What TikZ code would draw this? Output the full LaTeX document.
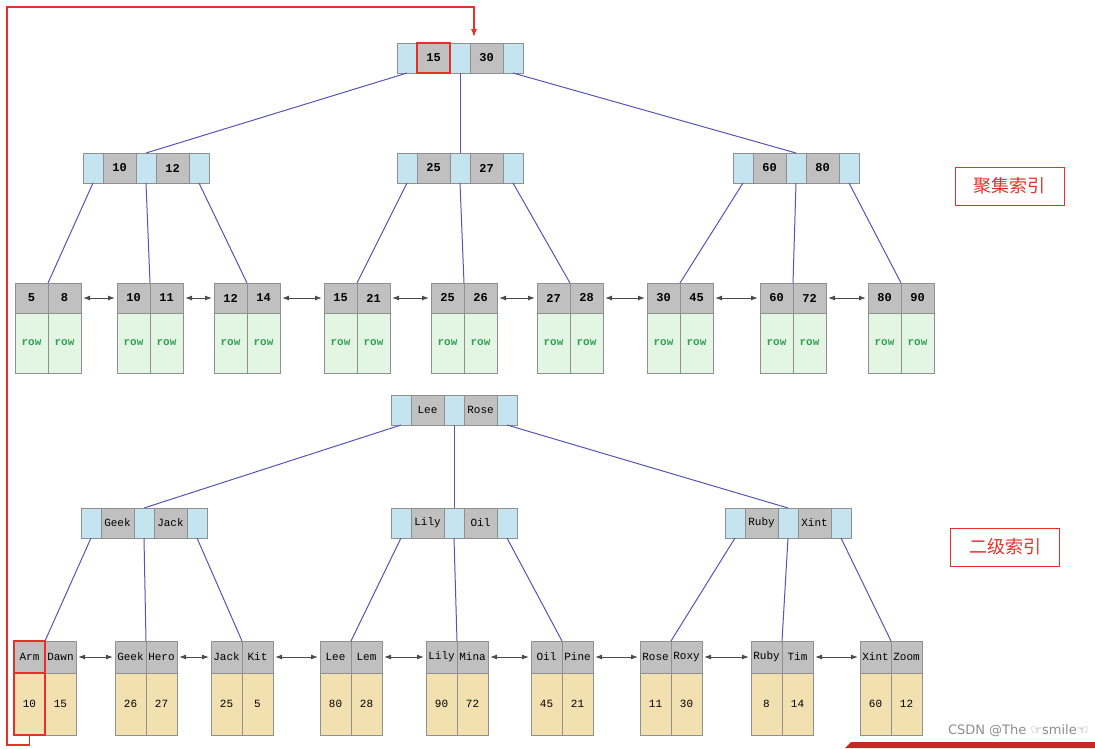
\documentclass[tikz,border=0pt]{standalone}
\usepackage{fontspec}
\setmainfont{Liberation Mono}
\newfontfamily\cjk{Noto Sans CJK SC}
\newfontfamily\sans{DejaVu Sans}
\usetikzlibrary{arrows.meta}
\definecolor{cy}{HTML}{C4E5F0}
\definecolor{gk}{HTML}{C0C0C0}
\definecolor{gr}{HTML}{E3F6E3}
\definecolor{tan}{HTML}{F2E0B0}
\definecolor{bd}{HTML}{909090}
\definecolor{ln}{HTML}{5555B5}
\definecolor{rw}{HTML}{2EA050}
\definecolor{rd}{HTML}{E8302A}
\tikzset{
 cell/.style={draw=bd,line width=.7pt,inner sep=0pt,outer sep=0pt,minimum height=30pt},
 cyc/.style={cell,fill=cy,minimum width=20pt},
 key/.style={cell,fill=gk,minimum width=33pt,font=\bfseries\fontsize{12}{12}\selectfont},
 lk/.style={cell,fill=gk,font=\bfseries\fontsize{12}{12}\selectfont},
 lk2/.style={cell,fill=gk,font=\fontsize{11}{11}\selectfont},
 bodyg/.style={cell,fill=gr,text=rw,font=\bfseries\fontsize{11}{11}\selectfont},
 bodyt/.style={cell,fill=tan,font=\fontsize{11}{11}\selectfont},
 edge/.style={draw=ln,line width=1pt},
 dbl/.style={draw=black!70,line width=1pt,{Latex[length=7pt,width=5pt]}-{Latex[length=7pt,width=5pt]},shorten <=2pt,shorten >=2pt},
 hl/.style={draw=rd,line width=1.4pt},
 lab/.style={draw=rd,line width=.8pt,text=rd,minimum width=109pt,minimum height=38pt,font=\cjk\fontsize{18}{18}\selectfont}
}
\newcommand\inode[6]{
 \node[cyc] (#1c1) at ({#2+10},{#3+15}) {};
 \node[key,#6] (#1k1) at ({#2+36.5},{#3+15}) {#4};
 \node[cyc] (#1c2) at ({#2+63},{#3+15}) {};
 \node[key,#6] (#1k2) at ({#2+89.5},{#3+15}) {#5};
 \node[cyc] (#1c3) at ({#2+116},{#3+15}) {};
}
\newcommand\tleaf[5]{
 \node[lk,minimum width=33pt] (#1k1) at ({#2+16.5},{#3+15}) {#4};
 \node[lk,minimum width=33pt] (#1k2) at ({#2+49.5},{#3+15}) {#5};
 \node[bodyg,minimum width=33pt,minimum height=60pt] (#1v1) at ({#2+16.5},{#3+60}) {row};
 \node[bodyg,minimum width=33pt,minimum height=60pt] (#1v2) at ({#2+49.5},{#3+60}) {row};
}
\newcommand\bleaf[7]{
 \node[lk2,minimum width=31pt,minimum height=32pt] (#1k1) at ({#2+15.5},{#3+16}) {#4};
 \node[lk2,minimum width=31pt,minimum height=32pt] (#1k2) at ({#2+46.5},{#3+16}) {#5};
 \node[bodyt,minimum width=31pt,minimum height=62pt] (#1v1) at ({#2+15.5},{#3+63}) {#6};
 \node[bodyt,minimum width=31pt,minimum height=62pt] (#1v2) at ({#2+46.5},{#3+63}) {#7};
}
\begin{document}
\begin{tikzpicture}[x=1pt,y=-1pt]
\useasboundingbox (0,0) rectangle (1095,748);
\inode{R}{397}{43}{15}{30}{}
\inode{A}{83}{153}{10}{12}{}
\inode{B}{397}{153}{25}{27}{}
\inode{C}{733}{153}{60}{80}{}
\tleaf{L1}{15}{283}{5}{8}
\tleaf{L2}{117}{283}{10}{11}
\tleaf{L3}{214}{283}{12}{14}
\tleaf{L4}{324}{283}{15}{21}
\tleaf{L5}{431}{283}{25}{26}
\tleaf{L6}{537}{283}{27}{28}
\tleaf{L7}{647}{283}{30}{45}
\tleaf{L8}{760}{283}{60}{72}
\tleaf{L9}{868}{283}{80}{90}
\draw[edge] (Rc1.south) -- (Ac2.north);
\draw[edge] (Rc2.south) -- (Bc2.north);
\draw[edge] (Rc3.south) -- (Cc2.north);
\foreach \p/\q in {A/L1,B/L4,C/L7}{
 \draw[edge] (\p c1.south) -- (\q k1.north east);}
\foreach \p/\q in {A/L2,B/L5,C/L8}{
 \draw[edge] (\p c2.south) -- (\q k1.north east);}
\foreach \p/\q in {A/L3,B/L6,C/L9}{
 \draw[edge] (\p c3.south) -- (\q k1.north east);}
\foreach \a/\b in {L1/L2,L2/L3,L3/L4,L4/L5,L5/L6,L6/L7,L7/L8,L8/L9}{
 \draw[dbl] (\a k2.east) -- (\b k1.west);}
\inode{S}{391}{395}{Lee}{Rose}{font=\fontsize{11}{11}\selectfont}
\inode{D}{81}{508}{Geek}{Jack}{font=\fontsize{11}{11}\selectfont}
\inode{E}{391}{508}{Lily}{Oil}{font=\fontsize{11}{11}\selectfont}
\inode{F}{725}{508}{Ruby}{Xint}{font=\fontsize{11}{11}\selectfont}
\bleaf{M1}{14}{641}{Arm}{Dawn}{10}{15}
\bleaf{M2}{115}{641}{Geek}{Hero}{26}{27}
\bleaf{M3}{211}{641}{Jack}{Kit}{25}{5}
\bleaf{M4}{320}{641}{Lee}{Lem}{80}{28}
\bleaf{M5}{426}{641}{Lily}{Mina}{90}{72}
\bleaf{M6}{531}{641}{Oil}{Pine}{45}{21}
\bleaf{M7}{640}{641}{Rose}{Roxy}{11}{30}
\bleaf{M8}{751}{641}{Ruby}{Tim}{8}{14}
\bleaf{M9}{860}{641}{Xint}{Zoom}{60}{12}
\draw[edge] (Sc1.south) -- (Dc2.north);
\draw[edge] (Sc2.south) -- (Ec2.north);
\draw[edge] (Sc3.south) -- (Fc2.north);
\foreach \p/\q in {D/M1,E/M4,F/M7}{
 \draw[edge] (\p c1.south) -- (\q k1.north east);}
\foreach \p/\q in {D/M2,E/M5,F/M8}{
 \draw[edge] (\p c2.south) -- (\q k1.north east);}
\foreach \p/\q in {D/M3,E/M6,F/M9}{
 \draw[edge] (\p c3.south) -- (\q k1.north east);}
\foreach \a/\b in {M1/M2,M2/M3,M3/M4,M4/M5,M5/M6,M6/M7,M7/M8,M8/M9}{
 \draw[dbl] (\a k2.east) -- (\b k1.west);}
\draw[hl] (Rk1.south west) rectangle (Rk1.north east);
\draw[hl] (M1k1.south west) rectangle (M1k1.north east);
\draw[hl] (M1v1.south west) rectangle (M1v1.north east);
\coordinate (p1) at (7,745);
\coordinate (p2) at (7,7);
\coordinate (p3) at (474,7);
\coordinate (p4) at (474,37);
\draw[draw=rd,line width=1.2pt,-{Latex[length=8pt,width=6pt]}] (M1v1.south) |- (p1) -- (p2) -- (p3) -- (p4);
\node[lab] (lab1) at (1009.5,186) {聚集索引};
\node[lab] (lab2) at (1005,547) {二级索引};
\fill[rd!85!black] (845,748) -- (851,742) -- (1095,742) -- (1095,748) -- cycle;
\node[text=black!45,font=\sans\fontsize{13}{13}\selectfont,anchor=east] (wm) at (1092,731) {CSDN @The ☞smile☜};
\end{tikzpicture}
\end{document}
